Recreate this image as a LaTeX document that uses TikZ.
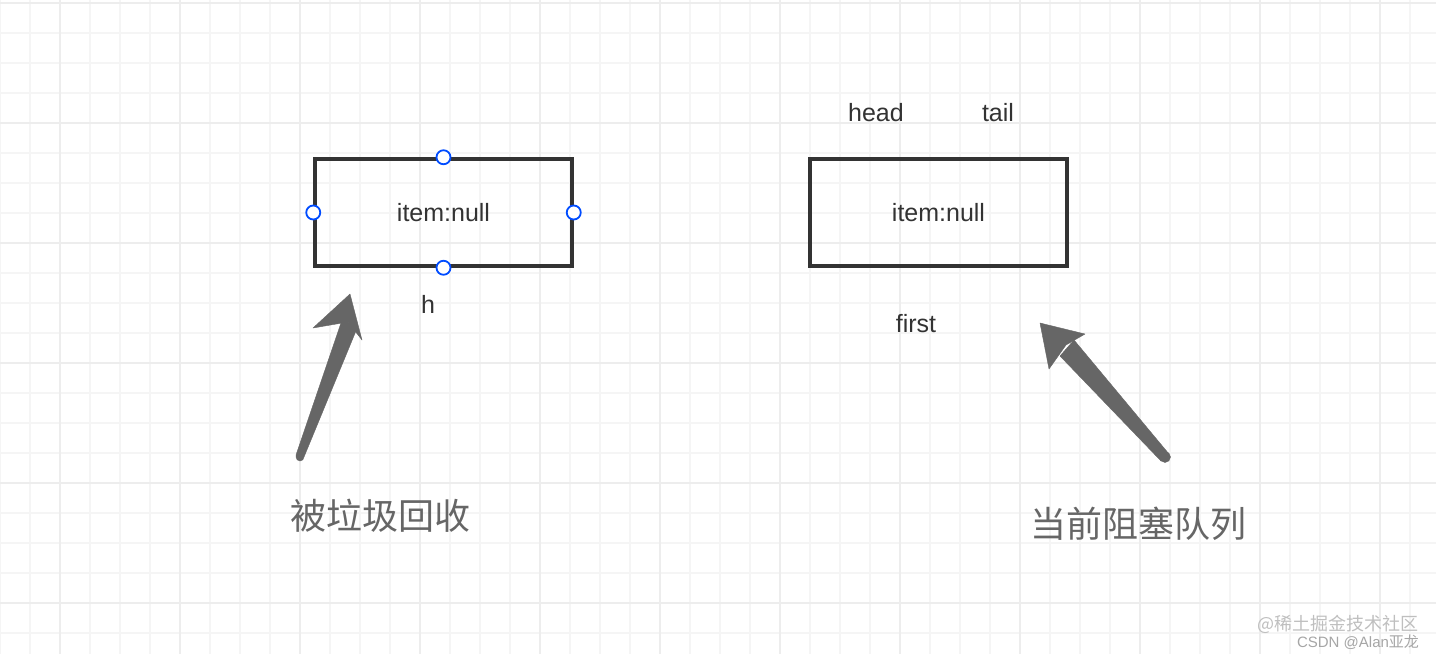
\documentclass[tikz,border=0pt]{standalone}
\usepackage{fontspec}
\setmainfont{Liberation Sans}
\newfontfamily\cjk{Noto Sans CJK SC}
\begin{document}
\begin{tikzpicture}[x=1pt,y=-1pt,
  box/.style={draw=black!80,line width=3.5pt,minimum width=257pt,minimum height=107pt,inner sep=0pt,font=\fontsize{25}{30}\selectfont,text=black!80},
  lbl/.style={font=\fontsize{25}{30}\selectfont,text=black!80,inner sep=0pt},
  big/.style={font=\cjk\fontsize{36}{42}\selectfont,text=black!60,inner sep=0pt},
  handle/.style={circle,draw=blue!70!cyan,fill=white,line width=1.8pt,minimum size=14pt,inner sep=0pt},
  arr/.style={fill=black!60,draw=black!60,line join=round}]
\fill[white] (0,0) rectangle (1436,654);
\useasboundingbox (0,0) rectangle (1436,654);
\foreach \x in {0,30,...,1436} \draw[black!4,line width=1.2pt] (\x,0) -- (\x,654);
\foreach \y in {3,33,...,654} \draw[black!4,line width=1.2pt] (0,\y) -- (1436,\y);
\foreach \x in {60,180,...,1436} \draw[black!7,line width=2pt] (\x,0) -- (\x,654);
\foreach \y in {3,123,...,654} \draw[black!7,line width=2pt] (0,\y) -- (1436,\y);
\node[box] (b1) at (443.5,212.5) {item:null};
\node[box] (b2) at (938.5,212.5) {item:null};
\foreach \a in {north,south,east,west} \node[handle] (h\a) at (b1.\a) {};
\node[lbl] (head) at (876,113) {head};
\node[lbl] (tail) at (998,113) {tail};
\node[lbl] (hh) at (428,304) {h};
\node[lbl] (first) at (916,324) {first};
\node[big] (g1) at (380,516) {被垃圾回收};
\node[big] (g2) at (1138,524) {当前阻塞队列};
% arrows (tapered shafts)
\fill[arr] (296,455) -- (342,320) -- (358,326) -- (304,457) arc (0:180:4) -- cycle;
\filldraw[arr] (350,294) -- (313,328) -- (348,322) -- (362,340) -- cycle;
\fill[arr] (1169,454) -- (1074,340) -- (1060,356) -- (1161,461) -- cycle;
\fill[arr] (1165,457) circle (5.5);
\filldraw[arr] (1040,323) -- (1085,334) -- (1066,345) -- (1049,369) -- cycle;
\node[font=\cjk\fontsize{18}{20}\selectfont,text=black!25,inner sep=0pt] (wm1) at (1338,624) {@稀土掘金技术社区};
\node[font=\fontsize{15}{17}\selectfont,text=black!35,inner sep=0pt] (wm2) at (1358,642) {CSDN @Alan{\cjk 亚龙}};
\end{tikzpicture}
\end{document}
